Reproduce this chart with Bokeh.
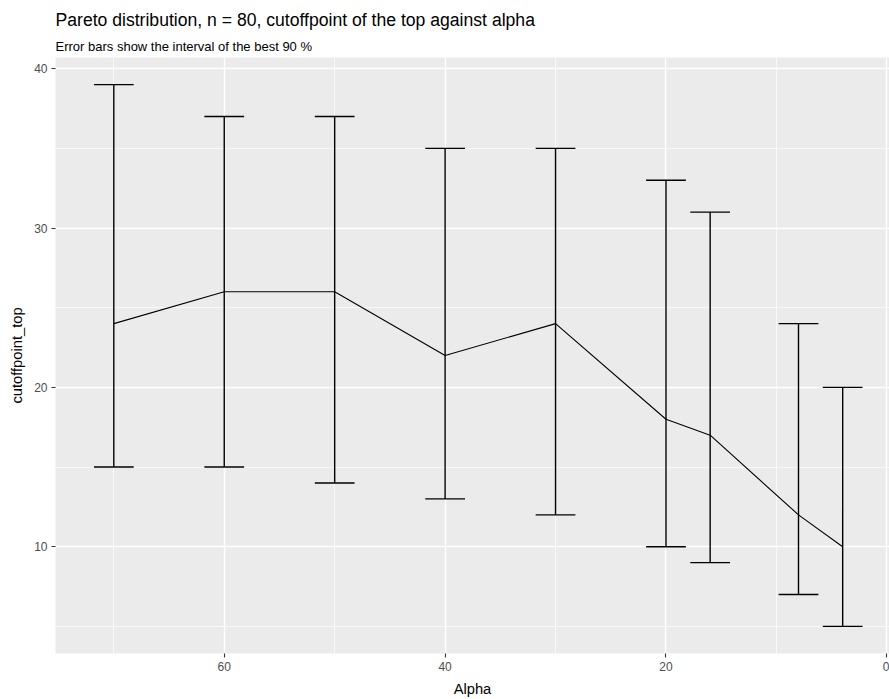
from bokeh.plotting import figure
from bokeh.models import (Range1d, FixedTicker, ColumnDataSource, Title)
from bokeh.transform import dodge
from bokeh.embed import file_html
from bokeh.resources import INLINE

# Data
alpha = [70, 60, 50, 40, 30, 20, 16, 8, 4]
cutoff_top = [24, 26, 26, 22, 24, 18, 17, 12, 10]
upper = [39, 37, 37, 35, 35, 33, 31, 24, 20]
lower = [15, 15, 14, 13, 12, 10, 9, 7, 5]
x_ticks = [0, 20, 40, 60]
x_minor = [10, 30, 50, 70]
y_ticks = [10, 20, 30, 40]
y_minor = [5, 15, 25, 35]

cap_half = 1.8  # errorbar width 3.6 (0.9 * resolution)

src = ColumnDataSource(dict(x=alpha, y=cutoff_top, lo=lower, hi=upper))

FONT = "Liberation Sans"

p = figure(width=889, height=699, output_backend="svg", toolbar_location=None,
           x_range=Range1d(75.28, -0.24), y_range=Range1d(3.3, 40.7),
           min_border_left=55, min_border_right=0, min_border_top=57,
           min_border_bottom=46)
p.title = None
p.background_fill_color = "#EBEBEB"
p.border_fill_color = "white"
p.outline_line_color = None

# Titles (subtitle first so it sits closer to the panel)
sub = Title(text="Error bars show the interval of the best 90 %", align="left",
            text_font=FONT, text_font_size="13px", text_font_style="normal",
            text_color="black", standoff=7, offset=0)
p.add_layout(sub, "above")
main = Title(text="Pareto distribution, n = 80, cutoffpoint of the top against alpha",
             align="left", text_font=FONT, text_font_size="17.6px",
             text_font_style="normal", text_color="black", standoff=7, offset=0)
p.add_layout(main, "above")

# Axes
for ax in (p.xaxis[0], p.yaxis[0]):
    ax.axis_line_color = None
    ax.major_tick_in = 0
    ax.major_tick_out = 4
    ax.major_tick_line_color = "#333333"
    ax.major_tick_line_width = 1.1
    ax.minor_tick_line_color = None
    ax.major_label_text_color = "#4D4D4D"
    ax.major_label_text_font = FONT
    ax.major_label_text_font_size = "12px"
    ax.axis_label_text_font = FONT
    ax.axis_label_text_font_size = "14.7px"
    ax.axis_label_text_font_style = "normal"
    ax.axis_label_text_color = "black"

p.xaxis.ticker = FixedTicker(ticks=x_ticks, minor_ticks=x_minor)
p.yaxis.ticker = FixedTicker(ticks=y_ticks, minor_ticks=y_minor)
p.xaxis.axis_label = "Alpha"
p.yaxis.axis_label = "cutoffpoint_top"
p.xaxis.major_label_standoff = 4
p.yaxis.major_label_standoff = 4
p.xaxis.axis_label_standoff = 7
p.yaxis.axis_label_standoff = 6

for g in (p.xgrid[0], p.ygrid[0]):
    g.grid_line_color = "white"
    g.grid_line_width = 1.4
    g.minor_grid_line_color = "white"
    g.minor_grid_line_width = 0.7

# Error bars
p.segment(x0="x", y0="lo", x1="x", y1="hi", source=src,
          line_color="black", line_width=1.4)
p.segment(x0=dodge("x", -cap_half), y0="hi", x1=dodge("x", cap_half), y1="hi",
          source=src, line_color="black", line_width=1.4)
p.segment(x0=dodge("x", -cap_half), y0="lo", x1=dodge("x", cap_half), y1="lo",
          source=src, line_color="black", line_width=1.4)
# Line
p.line(x="x", y="y", source=src, line_color="black", line_width=1.1)

open("out.html", "w").write(file_html(p, INLINE))
